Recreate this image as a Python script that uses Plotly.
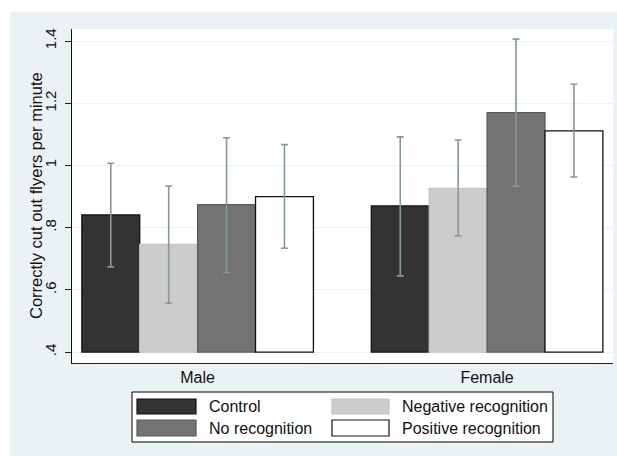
import plotly.graph_objects as go

# ---- data -------------------------------------------------------------
groups = ["Male", "Female"]
series = ["Control", "Negative recognition", "No recognition", "Positive recognition"]

control = [0.841, 0.870]
negative = [0.746, 0.926]
no_recognition = [0.874, 1.170]
positive = [0.900, 1.111]

control_hi = [1.007, 1.092]
control_lo = [0.674, 0.645]
negative_hi = [0.934, 1.082]
negative_lo = [0.557, 0.774]
no_recognition_hi = [1.089, 1.406]
no_recognition_lo = [0.656, 0.933]
positive_hi = [1.067, 1.261]
positive_lo = [0.734, 0.963]

y_ticks = [0.4, 0.6, 0.8, 1.0, 1.2, 1.4]
y_tick_labels = [".4", ".6", ".8", "1", "1.2", "1.4"]

# ---- styling ----------------------------------------------------------
fills = ["#333333", "#CCCCCC", "#737373", "#FFFFFF"]
edges = ["#111111", "#C4C4C4", "#5A5A5A", "#111111"]
ERR = "#829B93"
BG = "#EAF2F3"
GRID = "#EAF2F3"
FONT = "Liberation Sans, Arial, sans-serif"
BASE = 0.4

W, H = 617, 456
L, R, T, B = 72, 4, 29, 93
PW, PH = W - L - R, H - T - B


def px(x):
    return (x - L) / PW


def py(y):
    return (H - B - y) / PH


means = [control, negative, no_recognition, positive]
highs = [control_hi, negative_hi, no_recognition_hi, positive_hi]
lows = [control_lo, negative_lo, no_recognition_lo, positive_lo]

fig = go.Figure()
for name, vals, hi, lo, fill, edge in zip(series, means, highs, lows, fills, edges):
    fig.add_bar(
        x=groups,
        y=[v - BASE for v in vals],
        base=BASE,
        name=name,
        marker=dict(color=fill, line=dict(color=edge, width=1.3)),
        error_y=dict(
            type="data",
            symmetric=False,
            array=[h - v for h, v in zip(hi, vals)],
            arrayminus=[v - l for v, l in zip(vals, lo)],
            color=ERR,
            thickness=1.6,
            width=3.5,
        ),
        showlegend=False,
    )

shapes = [
    # white margin strips at the top and left edge of the page
    dict(type="rect", xref="paper", yref="paper", x0=px(-10), x1=px(W + 10),
         y0=py(12), y1=py(-10), fillcolor="white", line=dict(width=0), layer="above"),
    dict(type="rect", xref="paper", yref="paper", x0=px(-10), x1=px(10),
         y0=py(H + 10), y1=py(-10), fillcolor="white", line=dict(width=0), layer="above"),
    # legend frame
    dict(type="rect", xref="paper", yref="paper", x0=px(132), x1=px(553),
         y0=py(442), y1=py(392), fillcolor="white", line=dict(color="black", width=1)),
]
annotations = [
    dict(text="Correctly cut out flyers per minute", xref="paper", yref="paper",
         x=px(36), y=py(196), xanchor="center", yanchor="middle", textangle=-90,
         showarrow=False, font=dict(size=16.5, color="#111111")),
]

# legend entries: two columns, two rows
col_sw = [(137, 196), (332, 389)]
col_tx = [207, 400]
row_sw = [(399, 414), (420, 436)]
for i, (name, fill, edge) in enumerate(zip(series, fills, edges)):
    r, c = i // 2, i % 2
    shapes.append(dict(type="rect", xref="paper", yref="paper",
                       x0=px(col_sw[c][0]), x1=px(col_sw[c][1]),
                       y0=py(row_sw[r][1]), y1=py(row_sw[r][0]),
                       fillcolor=fill, line=dict(color=edge, width=1.2)))
    annotations.append(dict(text=name, xref="paper", yref="paper",
                            x=px(col_tx[c]), y=py((row_sw[r][0] + row_sw[r][1]) / 2),
                            xanchor="left", yanchor="middle", showarrow=False,
                            font=dict(size=16, color="#111111")))

fig.update_layout(
    width=W, height=H,
    margin=dict(l=L, r=R, t=T, b=B, autoexpand=False),
    paper_bgcolor=BG, plot_bgcolor="white",
    barmode="group", bargap=0.2, bargroupgap=0,
    font=dict(family=FONT, size=15, color="#111111"),
    showlegend=False,
    shapes=shapes,
    annotations=annotations,
    xaxis=dict(range=[-0.434, 1.435], showline=True, linecolor="#222222", linewidth=1.2,
               ticks="", showgrid=False, tickfont=dict(size=16)),
    yaxis=dict(range=[0.365, 1.4386], tickvals=y_ticks, ticktext=y_tick_labels,
               tickangle=-90, ticks="outside", ticklen=6, tickcolor="#222222",
               ticklabelstandoff=3,
               showline=True, linecolor="#111111", linewidth=1,
               showgrid=True, gridcolor=GRID, gridwidth=1, zeroline=False,
               tickfont=dict(size=15)),
)

fig.write_html("out.html")
